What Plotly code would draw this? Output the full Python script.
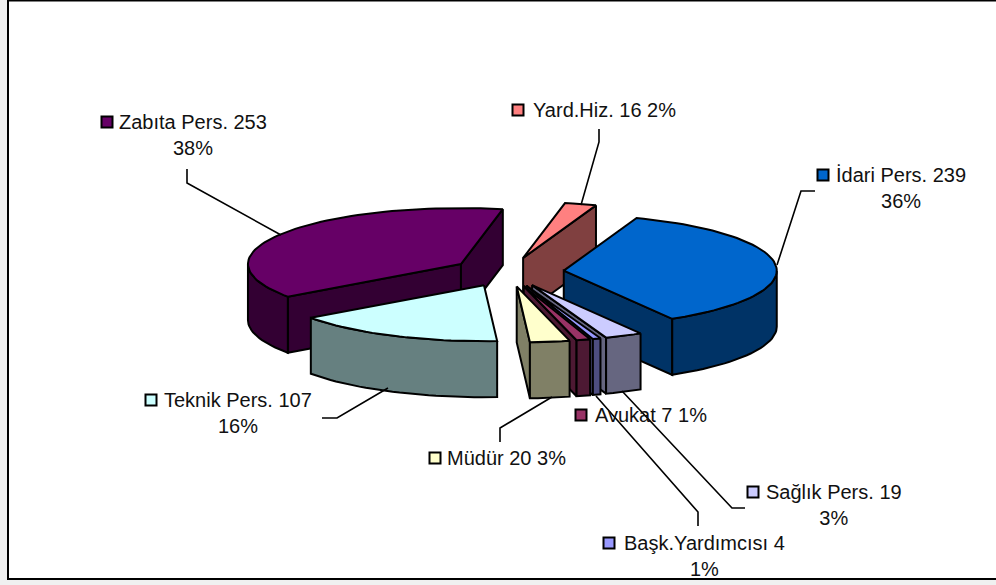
import math
import plotly.graph_objects as go

categories = ["İdari Pers.", "Sağlık Pers.", "Başk.Yardımcısı", "Avukat", "Müdür", "Teknik Pers.", "Zabıta Pers.", "Yard.Hiz."]
values = [239, 19, 4, 7, 20, 107, 253, 16]
top_colors = ["#0066CC", "#CCCCFF", "#9999FF", "#993366", "#FFFFCC", "#CCFFFF", "#660066", "#FF8080"]
side_colors = ["#003366", "#666680", "#4D4D80", "#4D1933", "#808066", "#668080", "#330033", "#804040"]
draw_order = [7, 6, 0, 5, 1, 2, 3, 4]

# label anchors: x of text centre, y of first line, marker x, two-line flag
label_boxes = [
    (901, 175, 823, True), (834, 492, 753, True), (704, 543, 609, True), (651, 415, 581, False),
    (506, 458, 435, False), (238, 400, 151, True), (193, 122, 107, True), (604, 110, 518, False),
]
leaders = [
    [(815, 191), (801, 191), (777, 265)],
    [(745, 508), (732, 508), (622, 391)],
    [(698, 526), (698, 512), (596, 396)],
    [],
    [(500, 442), (500, 428), (552, 397)],
    [(322, 418), (337, 418), (388, 388)],
    [(187, 169), (187, 183), (281, 235)],
    [(599, 129), (599, 142), (581, 205)],
]

CX, CY, RX, RY, DEPTH = 508, 272, 213, 56, 56
EXPLODE_X, EXPLODE_Y = 56, 14.6
START_DEG = 20.0

total = sum(values)
fig = go.Figure()


def poly(pts, fill):
    fig.add_trace(go.Scatter(x=[p[0] for p in pts] + [pts[0][0]], y=[p[1] for p in pts] + [pts[0][1]],
                             mode="lines", fill="toself", fillcolor=fill,
                             line=dict(color="black", width=2), hoverinfo="skip", showlegend=False))


angles = []
a = START_DEG
for v in values:
    b = a + v / total * 360
    angles.append((a, b))
    a = b


def on_rim(tip, deg):
    t = math.radians(deg)
    return (tip[0] + RX * math.sin(t), tip[1] - RY * math.cos(t))


for i in draw_order:
    a0, a1 = angles[i]
    mid = math.radians((a0 + a1) / 2)
    tip = (CX + EXPLODE_X * math.sin(mid), CY - EXPLODE_Y * math.cos(mid))
    n = max(3, int((a1 - a0) / 2))
    degs = [a0 + (a1 - a0) * k / n for k in range(n + 1)]
    rim = [on_rim(tip, d) for d in degs]
    down = lambda p: (p[0], p[1] + DEPTH)
    # hidden walls are covered by the top and visible walls
    if rim[0][0] < tip[0]:
        poly([tip, rim[0], down(rim[0]), down(tip)], side_colors[i])
    if rim[-1][0] > tip[0]:
        poly([rim[-1], tip, down(tip), down(rim[-1])], side_colors[i])
    lo, hi = max(a0, 90), min(a1, 270)
    if a1 > 450:
        lo, hi = max(a0, 450), min(a1, 630)
    if hi > lo:
        m = max(3, int((hi - lo) / 2))
        arc = [on_rim(tip, lo + (hi - lo) * k / m) for k in range(m + 1)]
        poly(arc + [down(p) for p in reversed(arc)], side_colors[i])
    poly([tip] + rim, top_colors[i])

for pts in leaders:
    if pts:
        fig.add_trace(go.Scatter(x=[p[0] for p in pts], y=[p[1] for p in pts], mode="lines",
                                 line=dict(color="black", width=1.6), hoverinfo="skip", showlegend=False))

FONT = dict(family="Liberation Sans, Arial, sans-serif", size=20, color="#111111")
for i, (tx, ty, mx, two) in enumerate(label_boxes):
    pct = f"{round(values[i] / total * 100)}%"
    line = f"{categories[i]} {values[i]}"
    text = f"{line}<br>{pct}" if two else f"{line} {pct}"
    fig.add_annotation(x=tx, y=ty, text=text, showarrow=False, xanchor="center", yanchor="top",
                       yshift=13, font=FONT, align="center", bgcolor="rgba(0,0,0,0)")
    fig.add_trace(go.Scatter(x=[mx], y=[ty], mode="markers", hoverinfo="skip", showlegend=False,
                             marker=dict(symbol="square", size=11, color=top_colors[i],
                                         line=dict(color="black", width=2))))

fig.update_layout(
    width=996, height=585, autosize=False,
    margin=dict(l=0, r=0, t=0, b=0),
    paper_bgcolor="#F0F0F0", plot_bgcolor="#F0F0F0",
    xaxis=dict(range=[0, 996], visible=False, fixedrange=True),
    yaxis=dict(range=[585, 0], visible=False, fixedrange=True),
    shapes=[dict(type="rect", layer="below", x0=8, x1=1000, y0=0.5, y1=579,
                 fillcolor="white", line=dict(color="black", width=2))],
)
fig.write_html("out.html", config={"displayModeBar": False},
               post_script="document.body.style.margin='0';document.body.style.overflow='hidden';document.documentElement.style.overflow='hidden';")
